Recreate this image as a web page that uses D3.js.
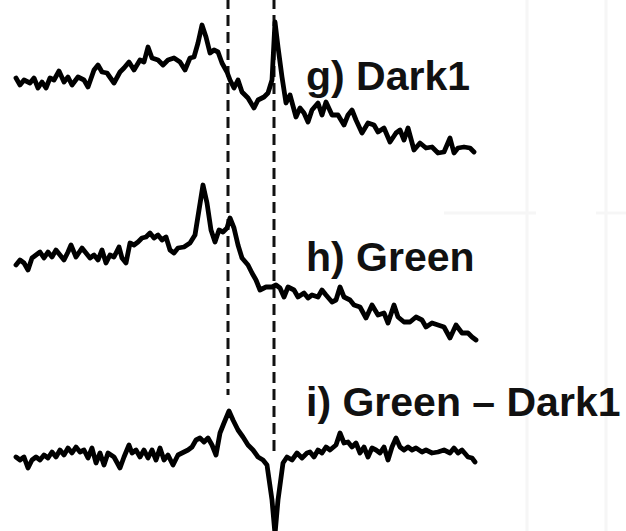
<!DOCTYPE html>
<html><head><meta charset="utf-8">
<script src="https://cdn.jsdelivr.net/npm/d3@7"></script>
<style>html,body{margin:0;padding:0;background:#fff;overflow:hidden}svg{display:block}</style>
</head><body>
<script>
// Field position (arbitrary units) and signal intensity (arbitrary units, positive = up)
const gX = [16,20,24,30,34,38,42,46,50,54,59,64,68,72,78,84,88,94,98,102,107,114,120,124,129,134,140,144,148,152,158,163,168,174,180,185,190,194,198,202,206,210,214,218,222,227,230,234,238,242,248,254,258,264,268,272,275,278,282,286,290,296,300,304,308,312,318,322,326,332,338,344,348,352,356,362,368,374,378,384,390,396,400,404,408,414,420,426,432,438,444,450,454,458,464,470,474];
const gY = [82,75,80,77,82,72,78,72,82,80,89,78,83,75,83,80,73,90,95,88,87,77,88,92,98,90,100,98,113,102,100,95,100,102,98,90,102,103,117,135,123,107,110,108,97,88,80,72,80,68,62,52,60,63,67,80,138,113,83,57,65,43,52,47,38,50,57,45,58,45,45,35,45,50,40,27,37,35,28,32,18,27,30,20,32,10,17,12,13,7,8,22,7,12,13,12,8];

const hX = [16,20,24,28,32,36,40,44,48,52,56,60,64,68,71,76,82,86,90,94,98,102,106,110,114,119,122,126,130,134,138,142,146,150,154,158,162,166,170,174,178,184,190,195,199,203,207,211,215,219,223,227,230,234,238,242,248,252,256,260,266,272,276,280,284,288,294,298,304,308,312,318,322,326,332,336,340,344,350,354,360,366,372,378,384,388,394,398,404,410,416,422,426,432,438,444,450,456,462,468,472,476];
const hY = [80,85,82,75,87,90,93,87,93,88,95,90,85,93,100,88,97,92,87,90,85,95,82,90,88,98,87,82,102,100,103,107,108,112,107,110,105,108,95,92,97,98,102,110,135,160,142,115,103,115,113,117,127,117,100,87,80,72,65,55,58,58,60,57,48,58,55,48,52,47,50,48,55,50,43,45,58,48,45,40,38,27,40,30,32,22,40,28,23,23,28,25,18,22,20,18,7,20,12,12,8,5];

const iX = [16,20,24,28,32,36,40,44,48,52,56,60,64,68,72,76,80,84,88,92,96,100,104,108,114,120,124,129,132,136,140,144,148,152,156,160,164,168,173,178,182,188,192,196,200,204,208,212,216,220,224,229,233,238,243,248,253,258,263,267,272,275,278,283,287,292,297,302,307,310,314,318,322,326,330,336,340,344,348,352,356,360,364,368,372,376,380,384,388,392,396,400,404,408,412,416,422,426,432,438,444,450,454,458,462,468,472,475];
const iY = [13,10,13,2,10,13,10,15,12,18,13,20,15,22,17,23,18,20,12,22,7,17,5,17,13,2,13,25,17,20,13,20,12,20,10,22,10,15,5,15,17,20,23,30,32,28,32,25,15,37,47,59,50,40,33,25,20,13,10,5,-30,-64,-30,7,13,10,17,12,17,18,13,20,17,23,20,25,37,27,28,23,27,17,23,13,22,20,17,23,10,23,32,23,20,23,20,22,18,20,17,18,20,17,22,17,20,13,12,8];

const markerX = [228, 274];          // dashed reference positions
const labels = ["g) Dark1", "h) Green", "i) Green \u2013 Dark1"];
const topNote = "(\u0394 = 1 ppm)";

const W = 626, H = 531;
const svg = d3.select("body").append("svg").attr("width", W).attr("height", H);

// faint scan artefacts
const faint = svg.append("g").attr("stroke", "#f6f6f6").attr("stroke-width", 3);
faint.append("line").attr("x1", 527).attr("x2", 527).attr("y1", 0).attr("y2", H);
faint.append("line").attr("x1", 606).attr("x2", 606).attr("y1", 0).attr("y2", H);
faint.append("line").attr("x1", 444).attr("x2", 536).attr("y1", 213).attr("y2", 213);
faint.append("line").attr("x1", 596).attr("x2", 626).attr("y1", 213).attr("y2", 213);

const x = d3.scaleLinear().domain([0, 480]).range([0, 480]);
const panels = [
  {xs: gX, ys: gY, base: 160},
  {xs: hX, ys: hY, base: 345},
  {xs: iX, ys: iY, base: 470}
];

// dashed lines
const dashEnds = [395, 452];
markerX.forEach((m, k) => {
  svg.append("line")
    .attr("x1", x(m)).attr("x2", x(m))
    .attr("y1", -2).attr("y2", dashEnds[k])
    .attr("stroke", "#111").attr("stroke-width", 3)
    .attr("stroke-dasharray", "11,6");
});

panels.forEach(p => {
  const y = d3.scaleLinear().domain([0, 100]).range([p.base, p.base - 100]);
  const pts = p.xs.map((v, j) => [v, p.ys[j]]);
  const line = d3.line().x(d => x(d[0])).y(d => y(d[1]));
  svg.append("path").datum(pts)
    .attr("d", line)
    .attr("fill", "none").attr("stroke", "#000")
    .attr("stroke-width", 4.8).attr("stroke-linejoin", "round").attr("stroke-linecap", "round");
});

const font = "'Liberation Sans', Arial, sans-serif";
const labY = [90, 271, 416];
labels.forEach((t, k) => {
  svg.append("text").attr("x", 306).attr("y", labY[k])
    .attr("font-family", font).attr("font-weight", "bold").attr("font-size", 41)
    .attr("fill", "#111").text(t);
});
svg.append("text").attr("x", 318).attr("y", -8)
  .attr("font-family", font).attr("font-weight", "bold").attr("font-size", 41)
  .attr("fill", "#111").text(topNote);
</script>
</body></html>
